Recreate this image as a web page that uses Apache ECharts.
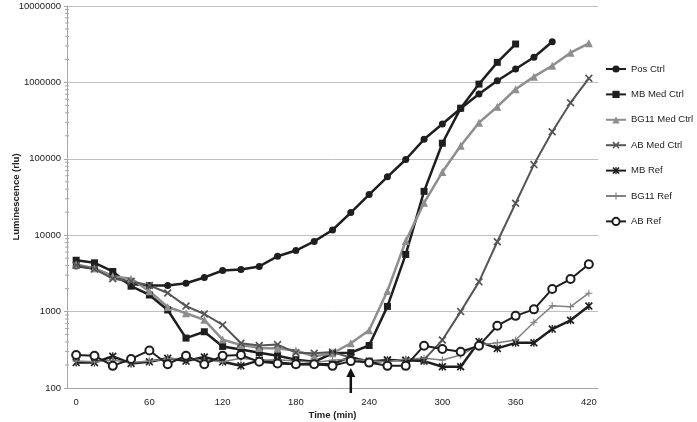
<!DOCTYPE html>
<html>
<head>
<meta charset="utf-8">
<script src="https://cdn.jsdelivr.net/npm/echarts@6/dist/echarts.min.js"></script>
<style>
  html, body { margin: 0; padding: 0; background: #fff; }
  #main { width: 697px; height: 422px; }
</style>
</head>
<body>
<div id="main"></div>
<script>
// time points (min), every 15 min
var times = ['0','15','30','45','60','75','90','105','120','135','150','165','180','195','210',
             '225','240','255','270','285','300','315','330','345','360','375','390','405','420'];

var posCtrl   = [3950, 3650, 2900, 2300, 2200, 2200, 2350, 2800, 3450, 3550, 3900, 5300, 6300, 8300, 11700,
                 19800, 34000, 58000, 98000, 180000, 285000, 455000, 705000, 1050000, 1500000, 2130000, 3400000, null, null];
var mbMedCtrl = [4700, 4350, 3350, 2150, 1650, 1050, 450, 545, 350, 320, 290, 265, 235, 220, 285,
                 290, 360, 1170, 5600, 37500, 160000, 460000, 950000, 1830000, 3180000, null, null, null, null];
var bgMedCtrl = [4150, 3700, 2900, 2700, 1850, 1150, 950, 780, 430, 365, 335, 330, 310, 260, 285,
                 385, 570, 1860, 8400, 26500, 67000, 148000, 297000, 481000, 813000, 1190000, 1650000, 2450000, 3250000];
var abMedCtrl = [4050, 3600, 2700, 2500, 2200, 1750, 1180, 930, 670, 385, 360, 370, 290, 285, 295,
                 250, 225, 235, 230, 235, 424, 1000, 2450, 8200, 26200, 84000, 226000, 542000, 1130000];
var mbRef     = [215, 215, 260, 210, 220, 245, 225, 255, 220, 195, 230, 215, 205, 205, 205,
                 255, 215, 230, 230, 225, 190, 190, 404, 330, 390, 390, 590, 770, 1180];
var bgRef     = [225, 220, 230, 215, 225, 240, 245, 230, 220, 245, 230, 235, 225, 215, 230,
                 240, 225, 220, 240, 245, 232, 270, 365, 391, 425, 725, 1190, 1160, 1740];
var abRef     = [270, 265, 195, 240, 310, 205, 265, 205, 265, 270, 220, 210, 205, 205, 195,
                 225, 215, 195, 195, 358, 324, 298, 358, 653, 880, 1070, 1980, 2670, 4160];

var yTicks = [100, 1000, 10000, 100000, 1000000, 10000000];
var arrowAt = '225';

var symX = 'path://M0,1.5 L1.5,0 L5,3.5 L8.5,0 L10,1.5 L6.5,5 L10,8.5 L8.5,10 L5,6.5 L1.5,10 L0,8.5 L3.5,5 Z';
var symStar = symX + ' M4.2,0 L5.8,0 L5.8,10 L4.2,10 Z';
var symPlus = 'path://M4.2,0 L5.8,0 L5.8,10 L4.2,10 Z M0,4.2 L10,4.2 L10,5.8 L0,5.8 Z';

var gridLeft = 67, gridTop = 6, gridRight = 99, gridBottom = 34;
var font = 'Liberation Sans, Arial, sans-serif';

function line(name, data, color, width, symbol, size, extra) {
  var s = {
    name: name, type: 'line', data: data,
    symbol: symbol, symbolSize: size, showAllSymbol: true,
    lineStyle: { color: color, width: width },
    itemStyle: { color: color },
    emphasis: { disabled: true }
  };
  if (extra) Object.assign(s, extra);
  return s;
}

var myChart = echarts.init(document.getElementById('main'));
myChart.setOption({
  animation: false,
  textStyle: { fontFamily: font },
  grid: { left: gridLeft, top: gridTop, right: gridRight, bottom: gridBottom,
          containLabel: false, outerBoundsMode: 'none' },
  legend: {
    orient: 'vertical',
    left: 605, top: 62, padding: 0,
    itemWidth: 20, itemHeight: 9, itemGap: 11.4,
    textStyle: { fontSize: 9.5, color: '#222', lineHeight: 14, fontFamily: font },
    data: ['Pos Ctrl', 'MB Med Ctrl', 'BG11 Med Ctrl', 'AB Med Ctrl', 'MB Ref', 'BG11 Ref', 'AB Ref']
  },
  xAxis: {
    type: 'category', data: times, boundaryGap: true,
    name: 'Time (min)', nameLocation: 'middle', nameGap: 22, nameMoveOverlap: false,
    nameTextStyle: { fontWeight: 'bold', fontSize: 9.5, color: '#222' },
    axisLine: { lineStyle: { color: '#a6a6a6', width: 1 } },
    axisTick: { show: false },
    axisLabel: { interval: 3, fontSize: 9.5, color: '#222', margin: 9 },
    splitLine: { show: false }
  },
  yAxis: {
    type: 'log', logBase: 10, min: 100, max: 10000000,
    name: 'Luminescence (rlu)', nameLocation: 'middle', nameGap: 46, nameMoveOverlap: false,
    nameTextStyle: { fontWeight: 'bold', fontSize: 9.5, color: '#222' },
    axisLine: { show: true, lineStyle: { color: '#a6a6a6', width: 1 } },
    axisTick: { show: true, length: 3, lineStyle: { color: '#a6a6a6' } },
    axisLabel: { fontSize: 9.5, color: '#222', margin: 6,
      formatter: function (v) { return String(Math.round(v)); } },
    splitLine: { lineStyle: { color: '#bfbfbf', width: 1 } }
  },
  series: [
    line('Pos Ctrl', posCtrl, '#1e1e1e', 2.5, 'circle', 7),
    line('MB Med Ctrl', mbMedCtrl, '#1e1e1e', 2.5, 'rect', 7),
    line('BG11 Med Ctrl', bgMedCtrl, '#8e8e8e', 2.5, 'triangle', 8),
    line('AB Med Ctrl', abMedCtrl, '#555555', 2, symX, 8),
    line('MB Ref', mbRef, '#1e1e1e', 2.5, symStar, 8),
    line('BG11 Ref', bgRef, '#808080', 1.5, symPlus, 7),
    line('AB Ref', abRef, '#1e1e1e', 2, 'emptyCircle', 8,
      { itemStyle: { color: '#1e1e1e', borderColor: '#1e1e1e', borderWidth: 1.5 } })
  ]
});

// log-spaced minor ticks on the y axis and the arrow under 225 min
var g = [];
for (var d = 0; d < yTicks.length - 1; d++) {
  for (var k = 2; k <= 9; k++) {
    var yy = myChart.convertToPixel({ yAxisIndex: 0 }, yTicks[d] * k);
    g.push({ type: 'line', shape: { x1: gridLeft - 2, y1: yy, x2: gridLeft + 2, y2: yy },
             style: { stroke: '#a6a6a6', lineWidth: 1 }, silent: true });
  }
}
var ax = myChart.convertToPixel({ xAxisIndex: 0 }, arrowAt);
var ay = myChart.convertToPixel({ yAxisIndex: 0 }, yTicks[0]);
g.push({ type: 'line', shape: { x1: ax, y1: ay - 13, x2: ax, y2: ay + 5 },
         style: { stroke: '#111', lineWidth: 2.5 }, silent: true, z: 100 });
g.push({ type: 'polygon', shape: { points: [[ax, ay - 20], [ax - 4.5, ay - 11], [ax + 4.5, ay - 11]] },
         style: { fill: '#111' }, silent: true, z: 100 });
myChart.setOption({ graphic: g });
</script>
</body>
</html>
